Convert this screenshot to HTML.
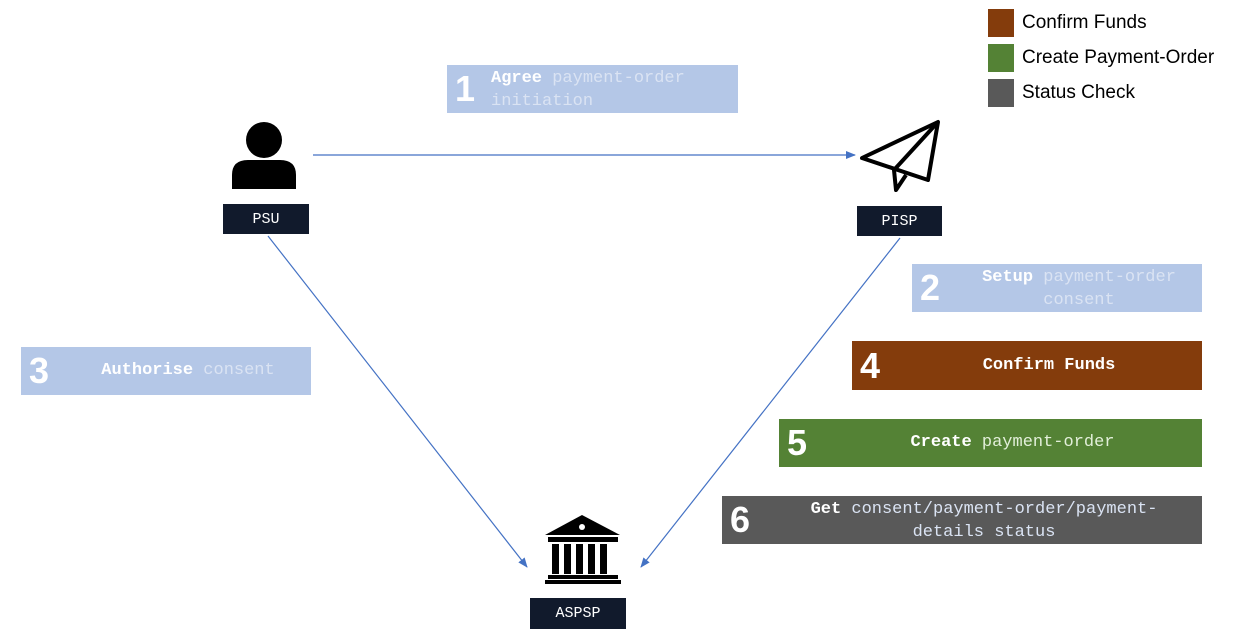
<!DOCTYPE html>
<html><head><style>
body{margin:0;width:1256px;height:636px;background:#fff;position:relative;overflow:hidden;font-family:"Liberation Mono",monospace}
.b{position:absolute;display:flex;align-items:center;color:#fff}
.n{font-family:"Liberation Sans",sans-serif;font-weight:bold;font-size:36px;position:absolute;left:8px;top:50%;transform:translateY(-50%);color:#fff}
.t{position:absolute;font-size:17px;line-height:23px;text-align:center}
.t b{color:#fff}
.lb{background:#b4c7e7;color:#dae3f3}
.lab{position:absolute;background:#111a2c;color:#fff;font-size:15px;display:flex;align-items:center;justify-content:center;font-family:"Liberation Mono",monospace}
.lg{position:absolute;left:988px;width:26px;height:28px}
.lt{position:absolute;left:1022px;font-family:"Liberation Sans",sans-serif;font-size:19px;color:#000}
</style></head><body>
<svg width="1256" height="636" style="position:absolute;left:0;top:0">
<defs><marker id="a" markerWidth="10" markerHeight="8" refX="9" refY="4" orient="auto" markerUnits="userSpaceOnUse"><path d="M0,0 L10,4 L0,8 z" fill="#4472c4"/></marker></defs>
<g stroke="#4472c4" stroke-width="1.2" fill="none">
<line x1="313" y1="155" x2="855" y2="155" marker-end="url(#a)"/>
<line x1="268" y1="236" x2="527" y2="567" marker-end="url(#a)"/>
<line x1="900" y1="238" x2="641" y2="567" marker-end="url(#a)"/>
</g>
<circle cx="264" cy="140" r="18" fill="#000"/>
<path d="M232,189 L232,175 Q232,160 248,160 L280,160 Q296,160 296,175 L296,189 Z" fill="#000"/>
<g fill="none" stroke="#000" stroke-width="4" stroke-linejoin="round">
<path d="M862,158 L938,122 L928,180 Z"/>
<path d="M938,122 L894,170 L896,190 L906,175"/>
</g>
<g fill="#000">
<path d="M582,515 L620,535 L545,535 Z"/>
<rect x="548" y="537" width="70" height="5"/>
<rect x="552" y="544" width="7" height="30"/><rect x="564" y="544" width="7" height="30"/><rect x="576" y="544" width="7" height="30"/><rect x="588" y="544" width="7" height="30"/><rect x="600" y="544" width="7" height="30"/>
<rect x="548" y="575" width="70" height="4"/><rect x="545" y="580" width="76" height="4"/>
</g>
<circle cx="582" cy="527" r="3" fill="#fff"/>
</svg>

<div class="lab" style="left:223px;top:204px;width:86px;height:30px">PSU</div>
<div class="lab" style="left:857px;top:206px;width:85px;height:30px">PISP</div>
<div class="lab" style="left:530px;top:598px;width:96px;height:31px">ASPSP</div>

<div class="b lb" style="left:447px;top:65px;width:291px;height:48px"><span class="n">1</span><div class="t" style="left:44px;top:2px;text-align:left"><b>Agree</b> payment-order<br>initiation</div></div>
<div class="b lb" style="left:912px;top:264px;width:290px;height:48px"><span class="n">2</span><div class="t" style="left:44px;right:0;top:2px"><b>Setup</b> payment-order<br>consent</div></div>
<div class="b lb" style="left:21px;top:347px;width:290px;height:48px"><span class="n">3</span><div class="t" style="left:44px;right:0;top:12px"><b>Authorise</b> consent</div></div>
<div class="b" style="left:852px;top:341px;width:350px;height:49px;background:#843c0c"><span class="n">4</span><div class="t" style="left:44px;right:0;top:13px"><b>Confirm Funds</b></div></div>
<div class="b" style="left:779px;top:419px;width:423px;height:48px;background:#548235;color:#e2efd9"><span class="n">5</span><div class="t" style="left:44px;right:0;top:12px"><b>Create</b> payment-order</div></div>
<div class="b" style="left:722px;top:496px;width:480px;height:48px;background:#595959;color:#dae3f3"><span class="n">6</span><div class="t" style="left:44px;right:0;top:2px"><b>Get</b> consent/payment-order/payment-<br>details status</div></div>

<div class="lg" style="top:9px;background:#843c0c"></div><div class="lt" style="top:12px">Confirm Funds</div>
<div class="lg" style="top:44px;background:#548235"></div><div class="lt" style="top:47px">Create Payment-Order</div>
<div class="lg" style="top:79px;background:#595959"></div><div class="lt" style="top:82px">Status Check</div>
</body></html>
